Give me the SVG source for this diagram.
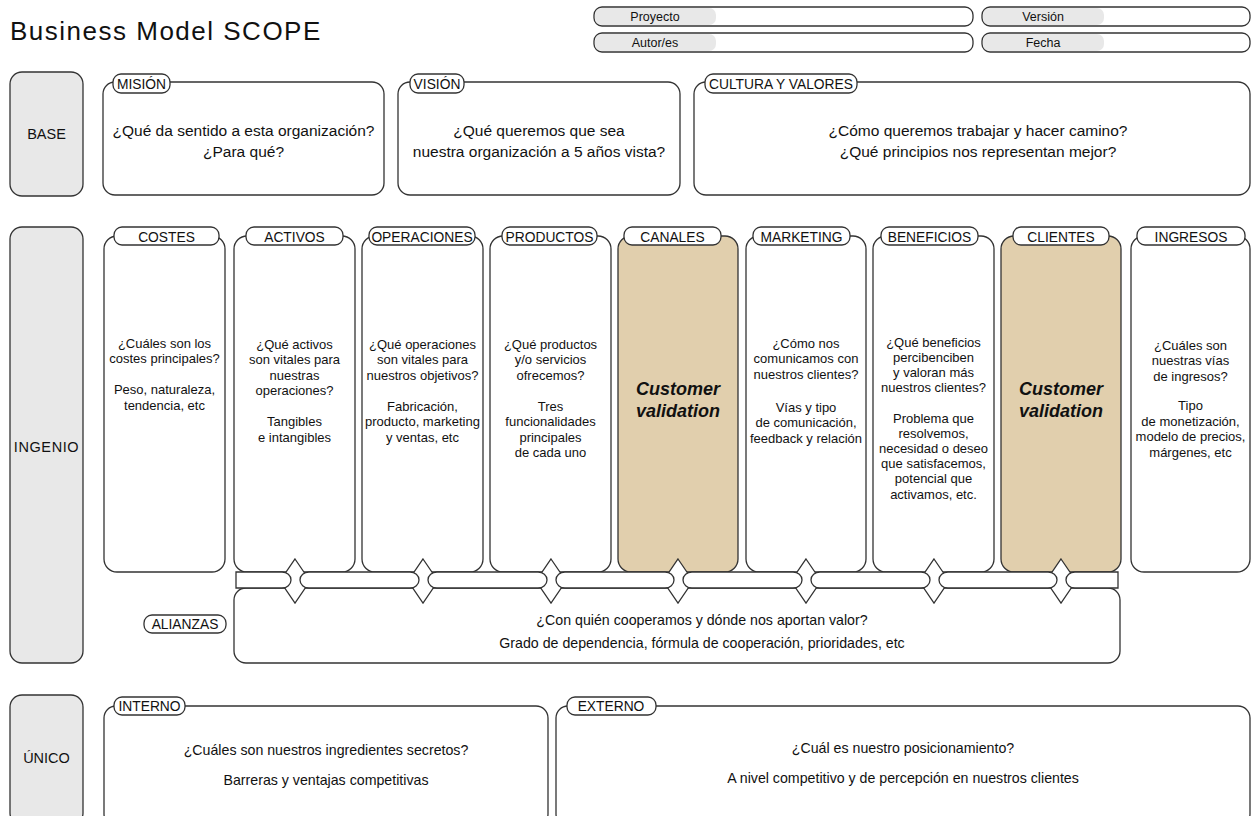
<svg xmlns="http://www.w3.org/2000/svg" width="1254" height="816" viewBox="0 0 1254 816">
  <style>
    text { font-family: "Liberation Sans", Arial, sans-serif; fill: #111; }
    .box { fill: #fff; stroke: #333; stroke-width: 1.3; }
    .tan { fill: #e1cfad; stroke: #333; stroke-width: 1.3; }
    .side { fill: #e8e8e8; stroke: #333; stroke-width: 1.3; }
    .tab { fill: #fff; stroke: #333; stroke-width: 1.3; }
    .shade { fill: #e8e8e8; }
    .row { font-size: 14.5px; text-anchor: middle; }
    .lbl { font-size: 13.8px; text-anchor: middle; }
    .hdr { font-size: 12.5px; text-anchor: middle; }
    .big { font-size: 15.5px; text-anchor: middle; }
    .q { font-size: 13px; text-anchor: middle; }
    .mid { font-size: 14.2px; text-anchor: middle; }
    .cv { font-size: 18px; font-weight: bold; font-style: italic; text-anchor: middle; }
    .link { fill: #fff; stroke: #333; stroke-width: 1.3; }
  </style>

  <!-- title -->
  <text x="10" y="40" font-size="26" letter-spacing="1.5">Business Model SCOPE</text>

  <!-- header fields -->
  <g id="field-proyecto">
    <rect class="shade" x="595" y="8" width="121" height="17" rx="7"/>
    <rect x="594" y="7" width="379" height="19" rx="8" fill="none" stroke="#333" stroke-width="1.3"/>
    <text class="hdr" x="655" y="21">Proyecto</text>
  </g>
  <g id="field-autores">
    <rect class="shade" x="595" y="34" width="121" height="17" rx="7"/>
    <rect x="594" y="33" width="379" height="19" rx="8" fill="none" stroke="#333" stroke-width="1.3"/>
    <text class="hdr" x="655" y="47">Autor/es</text>
  </g>
  <g id="field-version">
    <rect class="shade" x="983" y="8" width="121" height="17" rx="7"/>
    <rect x="982" y="7" width="268" height="19" rx="8" fill="none" stroke="#333" stroke-width="1.3"/>
    <text class="hdr" x="1043" y="21">Versión</text>
  </g>
  <g id="field-fecha">
    <rect class="shade" x="983" y="34" width="121" height="17" rx="7"/>
    <rect x="982" y="33" width="268" height="19" rx="8" fill="none" stroke="#333" stroke-width="1.3"/>
    <text class="hdr" x="1043" y="47">Fecha</text>
  </g>

  <!-- row headers -->
  <g id="row-base">
    <rect class="side" x="10" y="72" width="73" height="124" rx="12"/>
    <text class="row" x="46.5" y="139">BASE</text>
  </g>
  <g id="row-ingenio">
    <rect class="side" x="10" y="227" width="73" height="436" rx="12"/>
    <text class="row" x="46.5" y="452" letter-spacing="0.6">INGENIO</text>
  </g>
  <g id="row-unico">
    <rect class="side" x="10" y="695" width="73" height="130" rx="12"/>
    <text class="row" x="46.5" y="763">ÚNICO</text>
  </g>

  <!-- BASE row -->
  <g id="mision">
    <rect class="box" x="103" y="82" width="281" height="113" rx="12"/>
    <rect class="tab" x="113" y="74" width="57" height="19" rx="8"/>
    <text class="lbl" x="141.5" y="88.5">MISIÓN</text>
    <text class="big" x="243.5" y="136">¿Qué da sentido a esta organización?</text>
    <text class="big" x="243.5" y="157">¿Para qué?</text>
  </g>
  <g id="vision">
    <rect class="box" x="398" y="82" width="282" height="113" rx="12"/>
    <rect class="tab" x="410" y="74" width="54" height="19" rx="8"/>
    <text class="lbl" x="437" y="88.5">VISIÓN</text>
    <text class="big" x="539" y="136">¿Qué queremos que sea</text>
    <text class="big" x="539" y="157">nuestra organización a 5 años vista?</text>
  </g>
  <g id="cultura">
    <rect class="box" x="694" y="82" width="556" height="113" rx="12"/>
    <rect class="tab" x="705" y="74" width="152" height="19" rx="8"/>
    <text class="lbl" x="781" y="88.5">CULTURA Y VALORES</text>
    <text class="big" x="978" y="136">¿Cómo queremos trabajar y hacer camino?</text>
    <text class="big" x="978" y="157">¿Qué principios nos representan mejor?</text>
  </g>

  <!-- INGENIO row columns -->
  <g id="costes">
    <rect class="box" x="104" y="236" width="121" height="336" rx="13"/>
    <rect class="tab" x="114" y="227" width="105" height="18" rx="8"/>
    <text class="lbl" x="166.5" y="241.5">COSTES</text>
    <text class="q" x="164.5" y="347.5">¿Cuáles son los<tspan x="164.5" dy="15.5">costes principales?</tspan><tspan x="164.5" dy="31">Peso, naturaleza,</tspan><tspan x="164.5" dy="15.5">tendencia, etc</tspan></text>
  </g>
  <g id="activos">
    <rect class="box" x="234" y="236" width="121" height="336" rx="13"/>
    <rect class="tab" x="246" y="227" width="97" height="18" rx="8"/>
    <text class="lbl" x="294.5" y="241.5">ACTIVOS</text>
    <text class="q" x="294.5" y="348.5">¿Qué activos<tspan x="294.5" dy="15.5">son vitales para</tspan><tspan x="294.5" dy="15.5">nuestras</tspan><tspan x="294.5" dy="15.5">operaciones?</tspan><tspan x="294.5" dy="31">Tangibles</tspan><tspan x="294.5" dy="15.5">e intangibles</tspan></text>
  </g>
  <g id="operaciones">
    <rect class="box" x="362" y="236" width="121" height="336" rx="13"/>
    <rect class="tab" x="369" y="227" width="106" height="18" rx="8"/>
    <text class="lbl" x="422" y="241.5">OPERACIONES</text>
    <text class="q" x="422.5" y="348.5">¿Qué operaciones<tspan x="422.5" dy="15.5">son vitales para</tspan><tspan x="422.5" dy="15.5">nuestros objetivos?</tspan><tspan x="422.5" dy="31">Fabricación,</tspan><tspan x="422.5" dy="15.5">producto, marketing</tspan><tspan x="422.5" dy="15.5">y ventas, etc</tspan></text>
  </g>
  <g id="productos">
    <rect class="box" x="490" y="236" width="121" height="336" rx="13"/>
    <rect class="tab" x="502" y="227" width="95" height="18" rx="8"/>
    <text class="lbl" x="549.5" y="241.5">PRODUCTOS</text>
    <text class="q" x="550.5" y="348.5">¿Qué productos<tspan x="550.5" dy="15.5">y/o servicios</tspan><tspan x="550.5" dy="15.5">ofrecemos?</tspan><tspan x="550.5" dy="31">Tres</tspan><tspan x="550.5" dy="15.5">funcionalidades</tspan><tspan x="550.5" dy="15.5">principales</tspan><tspan x="550.5" dy="15.5">de cada uno</tspan></text>
  </g>
  <g id="canales">
    <rect class="tan" x="618" y="236" width="120" height="336" rx="13"/>
    <rect class="tab" x="624" y="227" width="97" height="18" rx="8"/>
    <text class="lbl" x="672.5" y="241.5">CANALES</text>
    <text class="cv" x="678" y="395">Customer</text>
    <text class="cv" x="678" y="417">validation</text>
  </g>
  <g id="marketing">
    <rect class="box" x="746" y="236" width="120" height="336" rx="13"/>
    <rect class="tab" x="753" y="227" width="97" height="18" rx="8"/>
    <text class="lbl" x="801.5" y="241.5">MARKETING</text>
    <text class="q" x="806" y="347.5">¿Cómo nos<tspan x="806" dy="15.5">comunicamos con</tspan><tspan x="806" dy="15.5">nuestros clientes?</tspan><tspan x="806" dy="33">Vías y tipo</tspan><tspan x="806" dy="15.5">de comunicación,</tspan><tspan x="806" dy="15.5">feedback y relación</tspan></text>
  </g>
  <g id="beneficios">
    <rect class="box" x="873" y="236" width="121" height="336" rx="13"/>
    <rect class="tab" x="881" y="227" width="97" height="18" rx="8"/>
    <text class="lbl" x="929.5" y="241.5">BENEFICIOS</text>
    <text class="q" x="933.5" y="346.5">¿Qué beneficios<tspan x="933.5" dy="15.2">percibenciben</tspan><tspan x="933.5" dy="15.2">y valoran más</tspan><tspan x="933.5" dy="15.2">nuestros clientes?</tspan><tspan x="933.5" dy="30.4">Problema que</tspan><tspan x="933.5" dy="15.2">resolvemos,</tspan><tspan x="933.5" dy="15.2">necesidad o deseo</tspan><tspan x="933.5" dy="15.2">que satisfacemos,</tspan><tspan x="933.5" dy="15.2">potencial que</tspan><tspan x="933.5" dy="15.2">activamos, etc.</tspan></text>
  </g>
  <g id="clientes">
    <rect class="tan" x="1001" y="236" width="120" height="336" rx="13"/>
    <rect class="tab" x="1013" y="227" width="96" height="18" rx="8"/>
    <text class="lbl" x="1061" y="241.5">CLIENTES</text>
    <text class="cv" x="1061" y="395">Customer</text>
    <text class="cv" x="1061" y="417">validation</text>
  </g>
  <g id="ingresos">
    <rect class="box" x="1131" y="236" width="119" height="336" rx="13"/>
    <rect class="tab" x="1137" y="227" width="108" height="18" rx="8"/>
    <text class="lbl" x="1191" y="241.5">INGRESOS</text>
    <text class="q" x="1190.5" y="349.5">¿Cuáles son<tspan x="1190.5" dy="15.5">nuestras vías</tspan><tspan x="1190.5" dy="15.5">de ingresos?</tspan><tspan x="1190.5" dy="29.5">Tipo</tspan><tspan x="1190.5" dy="15.5">de monetización,</tspan><tspan x="1190.5" dy="15.5">modelo de precios,</tspan><tspan x="1190.5" dy="15.5">márgenes, etc</tspan></text>
  </g>

  <!-- ALIANZAS -->
  <g id="alianzas">
    <rect class="box" x="234" y="588" width="886" height="75" rx="12"/>
    <rect class="tab" x="144" y="615" width="82" height="18" rx="8"/>
    <text class="lbl" x="185" y="629">ALIANZAS</text>
    <text class="mid" x="702" y="625">¿Con quién cooperamos y dónde nos aportan valor?</text>
    <text class="mid" x="702" y="648">Grado de dependencia, fórmula de cooperación, prioridades, etc</text>
  </g>

  <!-- links between the columns and ALIANZAS -->
  <g id="connectors">
    <g id="diamonds" class="link">
      <polygon points="295,559 310,581 295,603 280,581"/>
      <polygon points="423,559 438,581 423,603 408,581"/>
      <polygon points="551,559 566,581 551,603 536,581"/>
      <polygon points="678,559 693,581 678,603 663,581"/>
      <polygon points="806,559 821,581 806,603 791,581"/>
      <polygon points="934,559 949,581 934,603 919,581"/>
      <polygon points="1061,559 1076,581 1061,603 1046,581"/>
    </g>
    <g id="rails" class="link">
      <path d="M236,572 H282 A9 8 0 0 1 282,588 H236 Z"/>
      <path d="M309,572 H410 A9 8 0 0 1 410,588 H309 A9 8 0 0 1 309,572 Z"/>
      <path d="M437,572 H538 A9 8 0 0 1 538,588 H437 A9 8 0 0 1 437,572 Z"/>
      <path d="M565,572 H665 A9 8 0 0 1 665,588 H565 A9 8 0 0 1 565,572 Z"/>
      <path d="M692,572 H793 A9 8 0 0 1 793,588 H692 A9 8 0 0 1 692,572 Z"/>
      <path d="M820,572 H921 A9 8 0 0 1 921,588 H820 A9 8 0 0 1 820,572 Z"/>
      <path d="M948,572 H1048 A9 8 0 0 1 1048,588 H948 A9 8 0 0 1 948,572 Z"/>
      <path d="M1075,572 H1118 V588 H1075 A9 8 0 0 1 1075,572 Z"/>
    </g>
  </g>

  <!-- ÚNICO row -->
  <g id="interno">
    <rect class="box" x="104" y="706" width="444" height="120" rx="12"/>
    <rect class="tab" x="114" y="697" width="71" height="18" rx="8"/>
    <text class="lbl" x="149.5" y="711">INTERNO</text>
    <text class="mid" x="326" y="754.5">¿Cuáles son nuestros ingredientes secretos?</text>
    <text class="mid" x="326" y="784.5">Barreras y ventajas competitivas</text>
  </g>
  <g id="externo">
    <rect class="box" x="556" y="706" width="694" height="120" rx="12"/>
    <rect class="tab" x="567" y="697" width="89" height="18" rx="8"/>
    <text class="lbl" x="611" y="711">EXTERNO</text>
    <text class="mid" x="903" y="752.5">¿Cuál es nuestro posicionamiento?</text>
    <text class="mid" x="903" y="782.5">A nivel competitivo y de percepción en nuestros clientes</text>
  </g>
</svg>
